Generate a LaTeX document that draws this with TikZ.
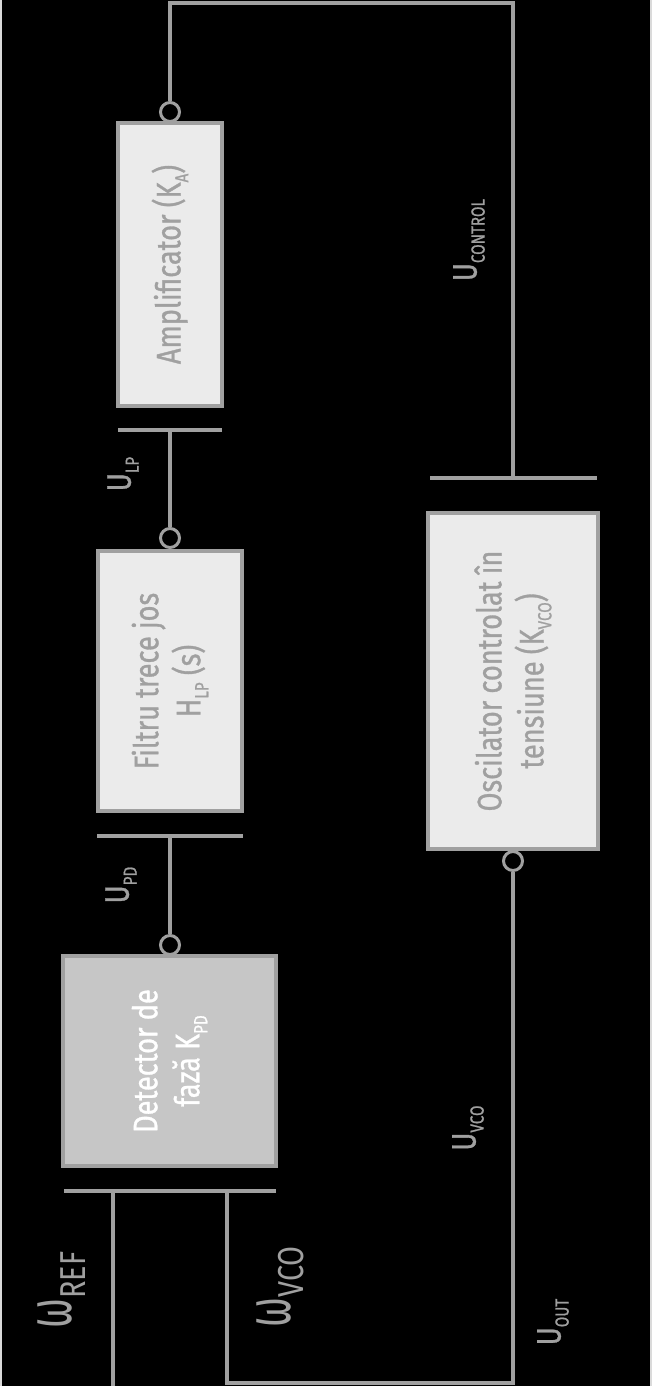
\documentclass[tikz,border=0pt]{standalone}
\usepackage{fontspec}
\setmainfont{Fira Sans}[FakeStretch=0.8,FakeBold=0.9]
\newfontfamily\thinfont{Fira Sans}[FakeStretch=0.8]
\usetikzlibrary{calc}
\definecolor{ln}{HTML}{A0A0A0}
\definecolor{bfill}{HTML}{EBEBEB}
\definecolor{dfill}{HTML}{C6C6C6}
\definecolor{edgec}{HTML}{DADADA}
\newcommand\sbs[1]{\raisebox{-8pt}{\fontsize{19}{19}\selectfont #1}}
\newcommand\omg{\scalebox{0.75}[1]{\fontsize{64}{64}\selectfont ω}}
\begin{document}
\begin{tikzpicture}[x=1pt,y=-1pt,
  wire/.style={draw=ln, line width=3.5pt},
  blk/.style={draw=ln, line width=3.5pt, fill=bfill, rotate=90, align=center,
    text=ln, font=\fontsize{34}{42}\selectfont, inner sep=0pt},
  dblk/.style={blk, fill=dfill, text=white},
  port/.style={circle, draw=ln, line width=3pt, fill=black, minimum size=19pt, inner sep=0pt},
  lbl/.style={rotate=90, text=ln, font=\fontsize{34}{40}\selectfont, inner sep=0pt},
  bigl/.style={rotate=90, text=ln, font=\thinfont\fontsize{36}{40}\selectfont, inner sep=0pt}]
\useasboundingbox (0,0) rectangle (652,1386);
\fill[black] (0,0) rectangle (652,1386);
\draw[edgec, line width=2pt] (1,0) -- (1,1386);
\draw[edgec, line width=2pt] (651,0) -- (651,1386);

% blocks
\node[blk, minimum width=283pt, minimum height=104pt] (amp) at (170,264.5) {Amplificator (K\sbs{A})};
\node[blk, minimum width=260pt, minimum height=144pt] (filt) at (170,681) {Filtru trece jos\\H\sbs{LP} (s)};
\node[dblk, minimum width=210pt, minimum height=213pt] (det) at (169.5,1061) {Detector de\\fază K\sbs{PD}};
\node[blk, minimum width=336pt, minimum height=170pt] (vco) at (513,681) {Oscilator controlat în\\tensiune (K\sbs{VCO})};

% ports
\node[port] (pamp) at (170,112) {};
\node[port] (pfilt) at (170,538) {};
\node[port] (pdet) at (170,945) {};
\node[port] (pvco) at (513,861) {};

% T-bars
\coordinate (ampL) at (118,430); \coordinate (ampR) at (222,430); \coordinate (ampM) at (170,430);
\coordinate (filL) at (97,836); \coordinate (filR) at (243,836); \coordinate (filM) at (170,836);
\coordinate (detL) at (64,1191); \coordinate (detR) at (276,1191);
\coordinate (detA) at (113,1191); \coordinate (detB) at (227,1191);
\coordinate (vcoL) at (430,478); \coordinate (vcoR) at (597,478); \coordinate (vcoM) at (513,478);
\coordinate (topR) at (513,3);
\coordinate (botR) at (513,1383);
\coordinate (refEnd) at (113,1386);

\draw[wire] (ampL) -- (ampR);
\draw[wire] (filL) -- (filR);
\draw[wire] (detL) -- (detR);
\draw[wire] (vcoL) -- (vcoR);

\draw[wire] (ampM) -- (pfilt.north);
\draw[wire] (filM) -- (pdet.north);
\draw[wire] (pamp.north) |- (topR) -- (vcoM);
\draw[wire] (detA) -- (refEnd);
\draw[wire] (detB) |- (botR) -- (pvco.south);

% labels
\node[lbl] (ulp) at (123,474) {U\sbs{LP}};
\node[lbl] (upd) at (121,885) {U\sbs{PD}};
\node[lbl] (uctl) at (469,240) {U\sbs{CONTROL}};
\node[lbl] (uvco) at (468,1128) {U\sbs{VCO}};
\node[lbl] (uout) at (553,1322) {U\sbs{OUT}};
\node[bigl] (wref) at (62,1290) {\omg\raisebox{-14pt}{REF}};
\node[bigl] (wvco) at (280,1287) {\omg\raisebox{-13pt}{VCO}};
\end{tikzpicture}
\end{document}
